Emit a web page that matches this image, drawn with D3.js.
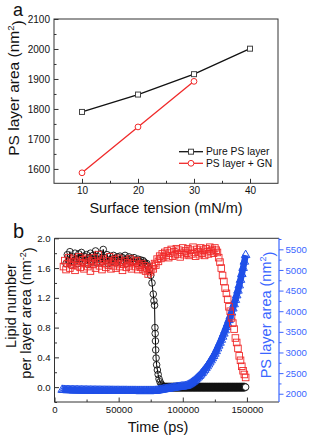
<!DOCTYPE html>
<html>
<head>
<meta charset="utf-8">
<script src="https://cdn.jsdelivr.net/npm/d3@7"></script>
<style>
	body { margin: 0; background: #fff; }
	svg { display: block; font-family: 'Liberation Sans', Arial, sans-serif; }
	.tick text { font-size: 10px; fill: #111; }
	.tick line { stroke: #333; }
</style>
</head>
<body>
<svg id="fig" width="309" height="437"></svg>
<script>
/*global d3 */
'use strict';

// ---- panel a: PS layer area vs surface tension ----
var tension = [10, 20, 30, 40];
var pureArea = [1790, 1848, 1916, 2001];
var gnTension = [10, 20, 30];
var gnArea = [1587, 1740, 1892];
var legendLabels = ['Pure PS layer', 'PS layer + GN'];

// ---- panel b: time series (time in units of 1000 ps) ----
var pureTime = [9, 10, 11, 12, 13, 14, 15, 16, 17, 18, 19,
	20, 21, 22, 23, 24, 25, 26, 27, 28, 29,
	30, 31, 32, 33, 34, 35, 36, 37, 38, 39,
	40, 41, 42, 43, 44, 45, 46, 47, 48, 49,
	50, 51, 52, 53, 54, 55, 56, 57, 58, 59,
	60, 61, 62, 63, 64, 65, 66, 67, 68, 69,
	70, 71, 72, 73, 74, 75, 76, 77,
	77.5, 78, 78.3, 78.5, 78.7, 78.9, 79.2, 79.6, 80.2, 80.8, 81.5, 82.3, 83.2, 84,
	85, 86, 87, 88, 89, 90, 91, 92, 93, 94, 95, 96, 97, 98, 99,
	100, 101, 102, 103, 104, 105, 106, 107, 108, 109, 110, 111, 112, 113, 114,
	115, 116, 117, 118, 119, 120, 121, 122, 123, 124, 125, 126, 127, 128, 129,
	130, 131, 132, 133, 134, 135, 136, 137, 138, 139, 140, 141, 142, 143, 144,
	145, 146, 147, 148, 149];
var pureLipid = [1.66, 1.78, 1.70, 1.82, 1.64, 1.75, 1.69, 1.80, 1.72, 1.66, 1.79,
	1.73, 1.81, 1.68, 1.76, 1.70, 1.78, 1.65, 1.74, 1.80, 1.69,
	1.77, 1.71, 1.83, 1.67, 1.75, 1.72, 1.79, 1.68, 1.85, 1.74,
	1.70, 1.78, 1.66, 1.76, 1.72, 1.69, 1.77, 1.73, 1.67, 1.75,
	1.71, 1.76, 1.68, 1.74, 1.70, 1.77, 1.66, 1.72, 1.75, 1.69,
	1.73, 1.68, 1.74, 1.70, 1.66, 1.72, 1.69, 1.71, 1.67, 1.70,
	1.68, 1.65, 1.66, 1.62, 1.58, 1.50, 1.40, 1.25,
	1.16, 1.10, 0.80, 0.72, 0.62, 0.50, 0.39, 0.30, 0.23, 0.17, 0.11, 0.07, 0.04, 0.02,
	0, 0, 0, 0, 0, 0, 0, 0, 0, 0, 0, 0, 0, 0, 0,
	0, 0, 0, 0, 0, 0, 0, 0, 0, 0, 0, 0, 0, 0, 0,
	0, 0, 0, 0, 0, 0, 0, 0, 0, 0, 0, 0, 0, 0, 0,
	0, 0, 0, 0, 0, 0, 0, 0, 0, 0, 0, 0, 0, 0, 0,
	0, 0, 0, 0, 0];

var gnTime = [7, 8, 9, 10, 11, 12, 13, 14, 15, 16,
	17, 18, 19, 20, 21, 22, 23, 24, 25, 26,
	27, 28, 29, 30, 31, 32, 33, 34, 35, 36,
	37, 38, 39, 40, 41, 42, 43, 44, 45, 46,
	47, 48, 49, 50, 51, 52, 53, 54, 55, 56,
	57, 58, 59, 60, 61, 62, 63, 64, 65, 66,
	67, 68, 69, 70, 71, 72, 73, 74, 75, 76,
	77, 78, 79, 80, 81, 82, 83, 84, 85, 86,
	87, 88, 89, 90, 91, 92, 93, 94, 95, 96,
	97, 98, 99, 100, 101, 102, 103, 104, 105, 106,
	107, 108, 109, 110, 111, 112, 113, 114, 115, 116,
	117, 118, 119, 120, 121, 122, 123, 124, 125, 126,
	127, 128, 129, 130, 131, 132, 133, 134, 135, 136,
	137, 138, 139, 140, 141, 142, 143, 144, 145, 146,
	147, 148, 149];
var gnLipid = [1.62, 1.70, 1.58, 1.66, 1.74, 1.60, 1.68, 1.64, 1.72, 1.57,
	1.69, 1.63, 1.75, 1.61, 1.67, 1.71, 1.59, 1.66, 1.73, 1.62,
	1.68, 1.56, 1.70, 1.65, 1.74, 1.60, 1.67, 1.78, 1.63, 1.69,
	1.58, 1.72, 1.66, 1.61, 1.70, 1.64, 1.75, 1.59, 1.68, 1.63,
	1.71, 1.60, 1.66, 1.73, 1.62, 1.68, 1.57, 1.65, 1.70, 1.61,
	1.67, 1.63, 1.72, 1.59, 1.66, 1.69, 1.62, 1.70, 1.58, 1.64,
	1.61, 1.66, 1.58, 1.63, 1.56, 1.60, 1.52, 1.57, 1.55, 1.62,
	1.59, 1.66, 1.64, 1.72, 1.69, 1.76, 1.73, 1.79, 1.75, 1.81,
	1.77, 1.83, 1.74, 1.80, 1.85, 1.76, 1.82, 1.78, 1.86, 1.79,
	1.84, 1.75, 1.81, 1.87, 1.78, 1.83, 1.80, 1.86, 1.77, 1.84,
	1.79, 1.88, 1.81, 1.76, 1.85, 1.82, 1.78, 1.87, 1.80, 1.84,
	1.77, 1.86, 1.82, 1.79, 1.88, 1.83, 1.85, 1.80, 1.87, 1.84,
	1.81, 1.74, 1.68, 1.60, 1.50, 1.42, 1.33, 1.26, 1.18, 1.08,
	1.02, 0.93, 0.86, 0.78, 0.66, 0.60, 0.52, 0.42, 0.36, 0.28,
	0.22, 0.17, 0.13];

var areaTime = [6, 7, 8, 9, 10, 11, 12, 13, 14, 15,
	16, 17, 18, 19, 20, 21, 22, 23, 24, 25,
	26, 27, 28, 29, 30, 31, 32, 33, 34, 35,
	36, 37, 38, 39, 40, 41, 42, 43, 44, 45,
	46, 47, 48, 49, 50, 51, 52, 53, 54, 55,
	56, 57, 58, 59, 60, 61, 62, 63, 64, 65,
	66, 67, 68, 69, 70, 71, 72, 73, 74, 75,
	76, 77, 78, 79, 80, 81, 82, 83, 84, 85,
	86, 87, 88, 89, 90, 91, 92, 93, 94, 95,
	96, 97, 98, 99, 100, 101, 102, 103, 104, 105,
	106, 107, 108, 109, 110, 111, 112, 113, 114, 115,
	116, 117, 118, 119, 120, 121, 122, 123, 124, 125,
	126, 127, 128, 129, 130, 131, 132, 133, 134, 135,
	136, 137, 138, 139, 140, 141, 142, 143, 144, 145,
	146, 147, 148, 149];
var areaValue = [2095, 2093, 2092, 2090, 2089, 2088, 2087, 2086, 2086, 2085,
	2084, 2084, 2083, 2082, 2082, 2081, 2081, 2080, 2080, 2079,
	2079, 2078, 2078, 2077, 2077, 2077, 2076, 2076, 2076, 2075,
	2075, 2075, 2074, 2074, 2074, 2074, 2073, 2073, 2073, 2073,
	2072, 2072, 2072, 2072, 2072, 2071, 2071, 2071, 2071, 2071,
	2071, 2070, 2070, 2070, 2070, 2070, 2070, 2070, 2069, 2069,
	2069, 2069, 2069, 2069, 2069, 2069, 2069, 2069, 2069, 2069,
	2069, 2069, 2070, 2072, 2076, 2082, 2088, 2094, 2100, 2105,
	2110, 2115, 2120, 2125, 2130, 2135, 2140, 2145, 2150, 2155,
	2160, 2164, 2168, 2172, 2176, 2180, 2185, 2192, 2205, 2222,
	2242, 2264, 2288, 2313, 2340, 2368, 2398, 2430, 2464, 2500,
	2538, 2578, 2620, 2664, 2710, 2758, 2808, 2860, 2914, 2970,
	3032, 3098, 3166, 3236, 3308, 3382, 3458, 3536, 3616, 3698,
	3784, 3874, 3968, 4066, 4168, 4274, 4384, 4498, 4625, 4760,
	4900, 5048, 5200, 5360];

var RED = '#f02a2a';
var BLUE = '#1f4fe8';
var BLUE_AXIS = '#3a66ff';

var svg = d3.select('#fig');

function zip(xs, ys) {
	return xs.map(function(x, i) { return {x: x, y: ys[i]}; });
}

// Draw ticks with d3 axes; negative size points ticks into the plot
function drawAxis(g, axisFn, scale, major, minor, fmt, inward, color) {
	var dir = inward ? -1 : 1;
	g.call(axisFn(scale).tickValues(minor).tickSize(2.5 * dir).tickSizeOuter(0).tickFormat(''));
	var gm = g.append('g');
	gm.call(axisFn(scale).tickValues(major).tickSize(4.5 * dir).tickSizeOuter(0)
		.tickPadding(inward ? 4 : 2).tickFormat(fmt));
	g.selectAll('.domain').remove();
	if (color) {
		g.selectAll('.tick line').style('stroke', color);
		g.selectAll('.tick text').style('fill', color);
	}
	return gm;
}

function rotatedTitle(x, y, size, parts, color) {
	var t = svg.append('text')
		.attr('transform', 'translate(' + x + ',' + y + ') rotate(-90)')
		.attr('text-anchor', 'middle')
		.attr('dy', '0.35em')
		.style('font-size', size + 'px')
		.style('fill', color || '#111');
	parts.forEach(function(p) {
		var s = t.append('tspan').text(p.text);
		if (p.sup) s.attr('dy', '-0.55em').style('font-size', '0.62em');
		if (p.after) s.attr('dy', '0.55em');
	});
	return t;
}

// ================= panel a =================
var xA = d3.scaleLinear().domain([5, 45]).range([54, 278]);
var yA = d3.scaleLinear().domain([1552, 2100]).range([183.3, 19]);

drawAxis(svg.append('g').attr('transform', 'translate(54,0)'), d3.axisLeft, yA,
	d3.range(1600, 2101, 100), [1650, 1750, 1850, 1950, 2050], d3.format('d'), true);
drawAxis(svg.append('g').attr('transform', 'translate(0,183.3)'), d3.axisBottom, xA,
	tension, [15, 25, 35], d3.format('d'), true);

svg.append('rect')
	.attr('x', 54).attr('y', 19).attr('width', 224).attr('height', 164.3)
	.attr('fill', 'none').attr('stroke', '#333').attr('stroke-width', 1);

var lineA = d3.line().x(function(d) { return xA(d.x); }).y(function(d) { return yA(d.y); });
var pureA = zip(tension, pureArea);
var gnA = zip(gnTension, gnArea);

svg.append('path').datum(pureA).attr('d', lineA)
	.attr('fill', 'none').attr('stroke', '#111').attr('stroke-width', 1.3);
svg.append('path').datum(gnA).attr('d', lineA)
	.attr('fill', 'none').attr('stroke', RED).attr('stroke-width', 1.3);

svg.selectAll('rect.sqA').data(pureA).enter().append('rect')
	.attr('class', 'sqA')
	.attr('x', function(d) { return xA(d.x) - 2.5; })
	.attr('y', function(d) { return yA(d.y) - 2.5; })
	.attr('width', 5).attr('height', 5)
	.attr('fill', '#fff').attr('stroke', '#444').attr('stroke-width', 1);
svg.selectAll('circle.ciA').data(gnA).enter().append('circle')
	.attr('class', 'ciA')
	.attr('cx', function(d) { return xA(d.x); })
	.attr('cy', function(d) { return yA(d.y); })
	.attr('r', 2.9)
	.attr('fill', '#fff').attr('stroke', RED).attr('stroke-width', 1);

// legend
var legend = svg.append('g').selectAll('g').data(legendLabels).enter().append('g')
	.attr('transform', function(d, i) { return 'translate(179,' + (151.7 + i * 11.6) + ')'; });
legend.append('line')
	.attr('x1', 0).attr('x2', 24)
	.attr('stroke', function(d, i) { return i ? RED : '#111'; }).attr('stroke-width', 1.3);
legend.each(function(d, i) {
	var g = d3.select(this);
	if (i === 0) {
		g.append('rect').attr('x', 9.5).attr('y', -2.5).attr('width', 5).attr('height', 5)
			.attr('fill', '#fff').attr('stroke', '#444');
	} else {
		g.append('circle').attr('cx', 12).attr('r', 2.9)
			.attr('fill', '#fff').attr('stroke', RED);
	}
});
legend.append('text')
	.attr('x', 27).attr('dy', '0.35em')
	.style('font-size', '10.3px').style('fill', '#111')
	.text(function(d) { return d; });

svg.append('text').attr('x', 166).attr('y', 208).attr('dy', '0.35em')
	.attr('text-anchor', 'middle').style('font-size', '14.5px').style('fill', '#111')
	.text('Surface tension (mN/m)');
rotatedTitle(14, 88, 15.5, [{text: 'PS layer area (nm'}, {text: '2', sup: true}, {text: ')', after: true}]);

svg.append('text').attr('x', 13).attr('y', 16)
	.style('font-size', '18px').style('fill', '#111').text('a');

// ================= panel b =================
var xB = d3.scaleLinear().domain([0, 175000]).range([54.5, 279]);
var yL = d3.scaleLinear().domain([-0.2, 2.0]).range([402, 238.3]);
var yR = d3.scaleLinear().domain([1800, 5767]).range([402, 238.3]);

drawAxis(svg.append('g').attr('transform', 'translate(0,402)'), d3.axisBottom, xB,
	[0, 50000, 100000, 150000], [25000, 75000, 125000], d3.format('d'), true);
drawAxis(svg.append('g').attr('transform', 'translate(54.5,0)'), d3.axisLeft, yL,
	[0, 0.4, 0.8, 1.2, 1.6, 2.0], [-0.2, 0.2, 0.6, 1.0, 1.4, 1.8], d3.format('.1f'), true);
drawAxis(svg.append('g').attr('transform', 'translate(279,0)'), d3.axisRight, yR,
	d3.range(2000, 5501, 500), d3.range(2250, 5751, 500), d3.format('d'), false, BLUE_AXIS);

svg.append('path')
	.attr('d', 'M279,238.3 H54.5 V402 H279')
	.attr('fill', 'none').attr('stroke', '#333');
svg.append('line')
	.attr('x1', 279).attr('x2', 279).attr('y1', 238.3).attr('y2', 402)
	.attr('stroke', BLUE_AXIS).attr('stroke-width', 1.2);

svg.selectAll('g.tick text').filter(function() {
	return this.getBoundingClientRect().top > 230;
}).style('font-size', '9.6px');

var plotB = svg.append('g');

// black: pure PS layer lipid density
var pureB = zip(pureTime, pureLipid);
var lineL = d3.line().x(function(d) { return xB(d.x * 1000); }).y(function(d) { return yL(d.y); });
plotB.append('path').datum(pureB).attr('d', lineL)
	.attr('fill', 'none').attr('stroke', '#000').attr('stroke-width', 1);
plotB.selectAll('circle.ciB').data(pureB).enter().append('circle')
	.attr('class', 'ciB')
	.attr('cx', function(d) { return xB(d.x * 1000); })
	.attr('cy', function(d) { return yL(d.y); })
	.attr('r', 3.3)
	.attr('fill', function(d, i) { return i === pureB.length - 1 ? '#fff' : 'none'; })
	.attr('stroke', '#111')
	.attr('stroke-width', function(d, i) { return d.y === 0 && i < pureB.length - 1 ? 2 : 0.9; });

// blue: PS layer area on right axis
var areaB = zip(areaTime, areaValue);
var lineR = d3.line().x(function(d) { return xB(d.x * 1000); }).y(function(d) { return yR(d.y); });
plotB.append('path').datum(areaB).attr('d', lineR)
	.attr('fill', 'none').attr('stroke', BLUE).attr('stroke-width', 6.5);
plotB.selectAll('path.triB').data(areaB).enter().append('path')
	.attr('class', 'triB')
	.attr('d', d3.symbol().type(d3.symbolTriangle).size(32))
	.attr('transform', function(d) { return 'translate(' + xB(d.x * 1000) + ',' + yR(d.y) + ')'; })
	.attr('fill', 'none').attr('stroke', BLUE).attr('stroke-width', 1);

// red: PS layer + GN lipid density
var gnB = zip(gnTime, gnLipid);
plotB.selectAll('rect.sqB').data(gnB).enter().append('rect')
	.attr('class', 'sqB')
	.attr('x', function(d) { return xB(d.x * 1000) - 3.3; })
	.attr('y', function(d) { return yL(d.y) - 3.3; })
	.attr('width', 6.6).attr('height', 6.6)
	.attr('fill', 'none').attr('stroke', RED).attr('stroke-width', 0.9);

svg.append('text').attr('x', 158).attr('y', 427).attr('dy', '0.35em')
	.attr('text-anchor', 'middle').style('font-size', '14.5px').style('fill', '#111')
	.text('Time (ps)');
rotatedTitle(11, 306, 14.5, [{text: 'Lipid number'}]);
rotatedTitle(26, 313, 14.5, [{text: 'per layer area (nm'}, {text: '-2', sup: true}, {text: ')', after: true}]);
rotatedTitle(266, 315, 14.5, [{text: 'PS layer area (nm'}, {text: '2', sup: true}, {text: ')', after: true}], BLUE_AXIS);

svg.append('text').attr('x', 13).attr('y', 238)
	.style('font-size', '20px').style('fill', '#111').text('b');
</script>
</body>
</html>
